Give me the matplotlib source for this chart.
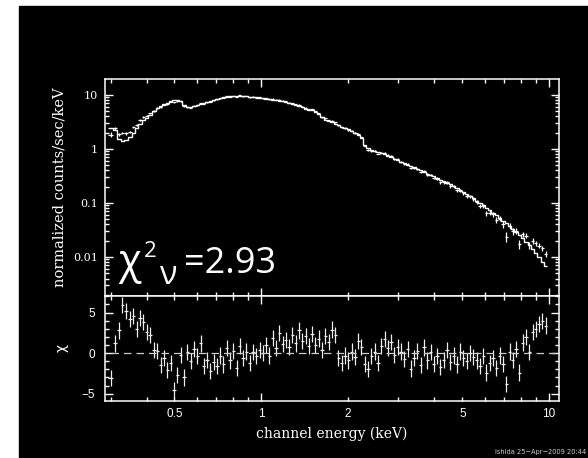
#!/usr/bin/env python3
"""XSPEC-style spectrum with chi residuals, black PGPLOT look."""

import numpy as np
import matplotlib
matplotlib.use('Agg')
import matplotlib.pyplot as plt
from matplotlib.patches import Rectangle
from matplotlib.ticker import LogLocator, MultipleLocator, NullFormatter, FixedLocator

# channel energies (keV)
energy = [
    0.300, 0.310, 0.320, 0.330, 0.340, 0.350, 0.360, 0.370, 0.380, 0.390,
    0.400, 0.412, 0.424, 0.436, 0.448, 0.460, 0.472, 0.485, 0.498, 0.512,
    0.526, 0.540, 0.555, 0.570, 0.585, 0.600, 0.616, 0.632, 0.649, 0.666,
    0.684, 0.702, 0.721, 0.740, 0.760, 0.780, 0.801, 0.822, 0.844, 0.866,
    0.889, 0.913, 0.937, 0.962, 0.988, 1.014, 1.041, 1.069, 1.097, 1.126,
    1.156, 1.187, 1.219, 1.251, 1.285, 1.319, 1.354, 1.390, 1.427, 1.465,
    1.504, 1.544, 1.585, 1.627, 1.671, 1.715, 1.761, 1.808, 1.856, 1.906,
    1.956, 2.009, 2.062, 2.117, 2.174, 2.232, 2.291, 2.352, 2.415, 2.479,
    2.545, 2.613, 2.683, 2.754, 2.828, 2.903, 2.981, 3.060, 3.142, 3.225,
    3.311, 3.400, 3.490, 3.583, 3.679, 3.777, 3.878, 3.981, 4.087, 4.196,
    4.308, 4.423, 4.541, 4.662, 4.786, 4.914, 5.045, 5.179, 5.318, 5.459,
    5.605, 5.754, 5.908, 6.065, 6.227, 6.393, 6.564, 6.739, 6.918, 7.103,
    7.292, 7.487, 7.686, 7.891, 8.101, 8.318, 8.539, 8.767, 9.000, 9.240,
    9.487, 9.740,
]

# folded model (normalized counts/sec/keV)
model = [
    2.45, 2.2, 1.55, 1.39, 1.45, 1.64, 2.0, 2.45, 2.9, 3.4,
    3.8, 4.3, 5.0, 5.7, 6.2, 6.7, 7.2, 7.7, 8.0, 8.0,
    7.6, 6.6, 5.9, 5.95, 6.3, 6.5, 6.8, 7.1, 7.5, 7.8,
    8.2, 8.5, 8.8, 9.1, 9.3, 9.4, 9.5, 9.6, 9.6, 9.6,
    9.5, 9.3, 9.2, 9.0, 8.9, 8.7, 8.5, 8.3, 8.15, 8.0,
    7.8, 7.6, 7.4, 7.1, 6.8, 6.5, 6.2, 5.9, 5.6, 5.35,
    5.15, 4.9, 4.4, 3.85, 3.5, 3.3, 3.1, 2.95, 2.8, 2.6,
    2.45, 2.3, 2.15, 2.0, 1.85, 1.6, 1.2, 1.02, 0.94, 0.90,
    0.86, 0.83, 0.79, 0.75, 0.70, 0.65, 0.62, 0.58, 0.55, 0.515,
    0.485, 0.455, 0.425, 0.40, 0.375, 0.35, 0.33, 0.31, 0.29, 0.27,
    0.253, 0.237, 0.222, 0.207, 0.19, 0.17, 0.157, 0.145, 0.133, 0.122,
    0.111, 0.101, 0.091, 0.082, 0.074, 0.066, 0.059, 0.053, 0.047, 0.042,
    0.037, 0.033, 0.029, 0.0255, 0.0222, 0.0192, 0.0165, 0.014, 0.0118, 0.0098,
    0.0082, 0.0068,
]

# 1-sigma errors as a fraction of the model
rel_err = [
    0.08, 0.08, 0.075, 0.07, 0.065, 0.06, 0.055, 0.05, 0.045, 0.04,
    0.035, 0.03, 0.03, 0.03, 0.025, 0.025, 0.025, 0.02, 0.02, 0.02,
    0.02, 0.02, 0.02, 0.02, 0.02, 0.02, 0.02, 0.02, 0.02, 0.02,
    0.02, 0.02, 0.02, 0.02, 0.02, 0.02, 0.02, 0.02, 0.02, 0.02,
    0.02, 0.02, 0.02, 0.02, 0.02, 0.02, 0.02, 0.02, 0.02, 0.02,
    0.02, 0.02, 0.02, 0.02, 0.02, 0.02, 0.02, 0.02, 0.02, 0.02,
    0.02, 0.02, 0.02, 0.022, 0.022, 0.022, 0.024, 0.024, 0.025, 0.025,
    0.026, 0.026, 0.027, 0.027, 0.028, 0.03, 0.032, 0.035, 0.035, 0.036,
    0.036, 0.037, 0.038, 0.039, 0.04, 0.04, 0.041, 0.042, 0.043, 0.044,
    0.045, 0.046, 0.047, 0.048, 0.05, 0.05, 0.052, 0.053, 0.055, 0.056,
    0.058, 0.06, 0.062, 0.064, 0.066, 0.068, 0.07, 0.072, 0.075, 0.078,
    0.08, 0.083, 0.086, 0.09, 0.093, 0.097, 0.10, 0.105, 0.11, 0.115,
    0.12, 0.125, 0.13, 0.135, 0.14, 0.15, 0.155, 0.16, 0.17, 0.18,
    0.19, 0.20,
]

# residuals (data - model) / sigma
chi = [
    -3.1, 1.2, 2.8, 5.9, 5.2, 4.2, 4.6, 3.0, 4.3, 3.8,
    2.6, 2.2, 0.4, 0.3, -1.5, -0.6, -2.1, -1.2, -4.5, -2.7,
    -0.2, -3.0, 0.1, -1.0, 0.5, -0.4, 1.2, -1.6, -0.8, -2.2,
    -1.1, -1.6, -0.3, -1.4, 0.6, -0.9, 0.3, -1.8, 0.9, -0.6,
    0.2, -1.2, 0.1, -0.4, 0.4, 0.0, 1.0, -0.3, 1.9, 0.6,
    2.5, 1.1, 1.6, 0.8, 2.2, 1.2, 2.8, 1.5, 2.1, 0.9,
    2.4, 1.0, 1.8, 0.4, 2.1, 1.4, 2.9, 2.2, -0.6, -1.2,
    -0.3, -0.9, 0.2, -0.5, 1.5, 0.8, -1.3, -2.0, -0.4, 0.2,
    -1.2, 0.9, 1.7, 0.6, 1.4, -0.2, 0.8, 0.2, -0.7, 0.5,
    -1.9, -0.6, 0.3, -1.5, 0.7, -0.9, 0.1, -1.3, -0.4, -1.7,
    -0.8, 0.4, -1.1, -0.3, -1.4, 0.2, -0.6, -1.0, 0.0, -0.5,
    -0.9, -1.6, -0.4, -2.4, -1.2, -0.6, -1.8, -0.3, -1.3, -3.8,
    0.2, -0.8, 0.5, -2.4, 1.3, 2.0, 0.1, 2.6, 3.0, 3.6,
    4.0, 3.4,
]

x_ticks_labeled = [0.5, 1, 2, 5, 10]
x_minor = [0.3, 0.4, 0.5, 0.6, 0.7, 0.8, 0.9, 2, 3, 4, 5, 6, 7, 8, 9]
stat_text = '2.93'


def style_axis(ax):
    ax.set_facecolor('black')
    for sp in ax.spines.values():
        sp.set_color('white')
        sp.set_linewidth(1.1)
    ax.tick_params(which='both', direction='in', top=True, right=True,
                   colors='white', width=1.0)
    ax.tick_params(which='major', length=5.5)
    ax.tick_params(which='minor', length=2.6)


def main():
    E = np.array(energy)
    m = np.array(model)
    r = np.array(rel_err)
    c = np.array(chi)
    sig = m * r
    data = m + c * sig

    mids = np.sqrt(E[:-1] * E[1:])
    edges = np.concatenate([[E[0] ** 2 / mids[0]], mids, [E[-1] ** 2 / mids[-1]]])
    xerr = np.vstack([E - edges[:-1], edges[1:] - E])

    fig = plt.figure(figsize=(5.88, 4.58), dpi=100, facecolor='white')
    fig.add_artist(Rectangle((19 / 588, 0), 1 - 19 / 588, 1 - 6 / 458,
                             transform=fig.transFigure, color='black', zorder=-5))

    L, W = 105 / 588, 454 / 588
    ax1 = fig.add_axes([L, 1 - 296 / 458, W, 217 / 458])
    ax2 = fig.add_axes([L, 1 - 401 / 458, W, 105 / 458], sharex=ax1)
    for ax in (ax1, ax2):
        style_axis(ax)

    # top: data crosses + model histogram
    ax1.errorbar(E, data, xerr=xerr, yerr=sig, fmt='none', ecolor='white', elinewidth=0.9)
    ax1.stairs(m, edges, baseline=None, color='white', linewidth=1.0)
    ax1.set_xscale('log')
    ax1.set_yscale('log')
    ax1.set_xlim(0.287, 10.83)
    ax1.set_ylim(0.0019, 19.7)
    ax1.yaxis.set_major_locator(LogLocator(base=10, numticks=10))
    ax1.yaxis.set_minor_locator(LogLocator(base=10, subs=np.arange(2, 10), numticks=10))
    ax1.yaxis.set_minor_formatter(NullFormatter())
    ax1.set_yticks([0.01, 0.1, 1, 10], labels=['0.01', '0.1', '1', '10'])
    ax1.tick_params(axis='y', labelsize=8, labelcolor='white', pad=5,
                    labelfontfamily='DejaVu Serif')
    ax1.tick_params(axis='x', which='both', labelbottom=False)
    ax1.set_ylabel('normalized counts/sec/keV', color='white', fontsize=10.5,
                   family='DejaVu Serif')
    ax1.yaxis.set_label_coords(-0.084, 0.5)

    # bottom: residuals
    ax2.errorbar(E, c, xerr=xerr, yerr=np.ones_like(c), fmt='none',
                 ecolor='#eeeeee', elinewidth=0.9)
    ax2.hlines(0, E[0], 10.83, colors='#cccccc', linestyles=(0, (6, 4)), linewidth=0.9)
    ax2.set_ylim(-5.9, 7.04)
    ax2.yaxis.set_major_locator(MultipleLocator(5))
    ax2.yaxis.set_minor_locator(MultipleLocator(1))
    ax2.xaxis.set_major_locator(FixedLocator([1, 10]))
    ax2.set_xticks([1, 10], labels=['1', '10'])
    ax2.set_xticks(x_minor, labels=[str(v) if v in x_ticks_labeled else '' for v in x_minor],
                   minor=True)
    ax2.tick_params(axis='both', which='both', labelsize=8.5, labelcolor='white', pad=5,
                    labelfontfamily='Liberation Sans')
    ax2.tick_params(axis='y', pad=7)
    ax2.set_ylabel('\u03c7', color='white', fontsize=10, family='DejaVu Sans')
    ax2.yaxis.set_label_coords(-0.081, 0.5)
    ax2.set_xlabel('channel energy (keV)', color='white', fontsize=10, family='DejaVu Serif')
    ax2.xaxis.set_label_coords(0.5, -0.245)

    # reduced chi-square annotation
    fam = ['Open Sans', 'DejaVu Sans']
    fig.text(118 / 588, 1 - 274 / 458, '\u03c7', color='white', fontsize=30, family=fam,
             va='baseline')
    fig.text(144 / 588, 1 - 257 / 458, '2', color='white', fontsize=16, family=fam,
             va='baseline')
    fig.text(160 / 588, 1 - 284 / 458, '\u03bd', color='white', fontsize=23, family=fam,
             va='baseline')
    fig.text(184 / 588, 1 - 273 / 458, '=' + stat_text, color='white', fontsize=26,
             family=fam, va='baseline')

    fig.text(586 / 588, 1 - 454 / 458, 'Ishida 25\u2212Apr\u22122009 20:44', color='#cccccc',
             fontsize=4.8, ha='right', va='baseline')

    fig.savefig('out.png', dpi=100, facecolor='white')


if __name__ == '__main__':
    main()
